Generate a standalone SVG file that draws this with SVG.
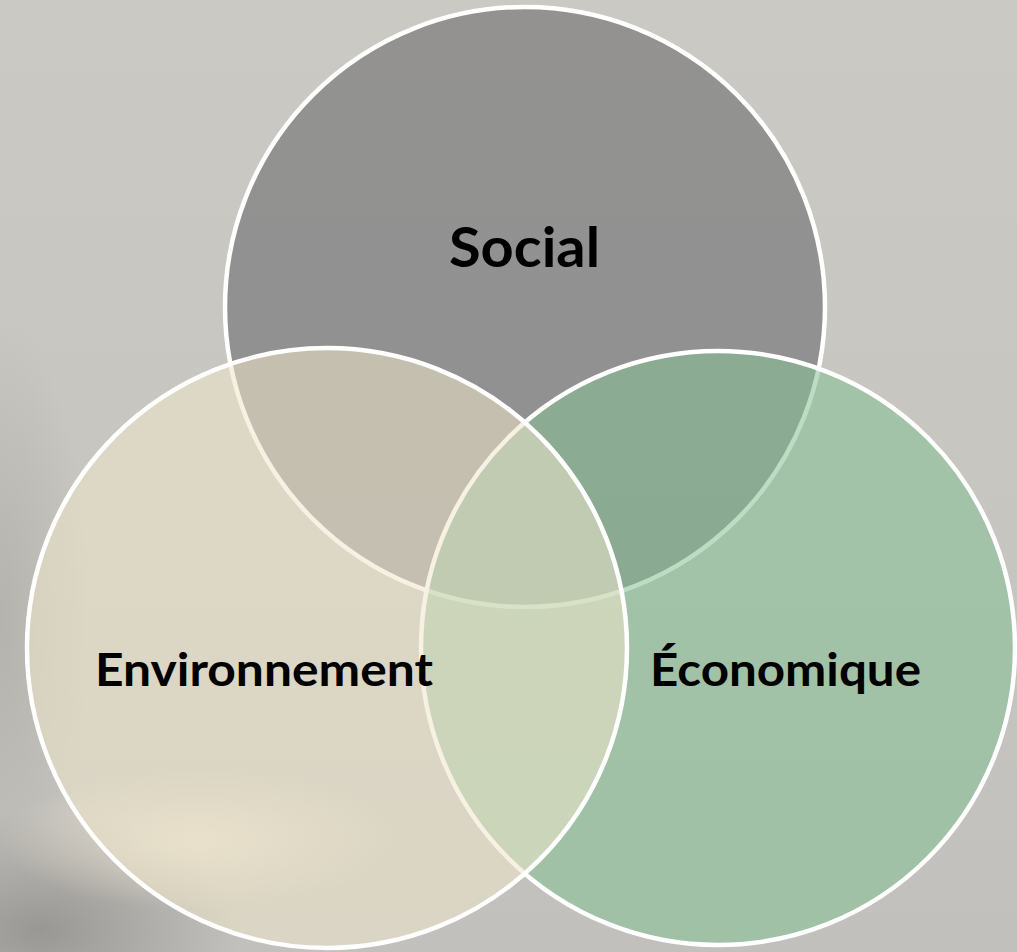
<svg xmlns="http://www.w3.org/2000/svg" width="1017" height="952" viewBox="0 0 1017 952">
  <defs>
    <style>
      .ring { stroke: #ffffff; stroke-width: 4.5; }
      .label { font-family: "Lato", "Open Sans", "Liberation Sans", sans-serif; font-weight: 700; fill: #000000; text-anchor: middle; }
    </style>
    <linearGradient id="bg" x1="0" y1="0" x2="0" y2="1">
      <stop offset="0" stop-color="#cbc9c4"/>
      <stop offset="0.6" stop-color="#c7c5c0"/>
      <stop offset="1" stop-color="#c2c0bc"/>
    </linearGradient>
    <radialGradient id="darkCorner" cx="0.5" cy="0.5" r="0.5">
      <stop offset="0" stop-color="#8f8d89" stop-opacity="0.8"/>
      <stop offset="1" stop-color="#8f8d89" stop-opacity="0"/>
    </radialGradient>
    <radialGradient id="darkSide" cx="0.5" cy="0.5" r="0.5">
      <stop offset="0" stop-color="#a9a7a2" stop-opacity="0.6"/>
      <stop offset="1" stop-color="#a9a7a2" stop-opacity="0"/>
    </radialGradient>
    <radialGradient id="lightBlob" cx="0.5" cy="0.5" r="0.5">
      <stop offset="0" stop-color="#efe6d2" stop-opacity="0.7"/>
      <stop offset="1" stop-color="#efe6d2" stop-opacity="0"/>
    </radialGradient>
  </defs>

  <g id="background">
    <rect x="0" y="0" width="1017" height="952" fill="url(#bg)"/>
    <ellipse cx="40" cy="930" rx="200" ry="120" fill="url(#darkCorner)"/>
    <ellipse cx="0" cy="620" rx="90" ry="300" fill="url(#darkSide)"/>
    <ellipse cx="200" cy="840" rx="200" ry="70" fill="url(#lightBlob)"/>
  </g>

  <g id="node-social">
    <circle class="ring" cx="525" cy="307" r="300" fill="#7b7b7c" fill-opacity="0.7"/>
    <text class="label" x="524.5" y="267" font-size="56" textLength="151" lengthAdjust="spacingAndGlyphs">Social</text>
  </g>

  <g id="node-economique">
    <circle class="ring" cx="718" cy="648" r="297" fill="#85c194" fill-opacity="0.55"/>
    <text class="label" x="785.5" y="686" font-size="46" textLength="271" lengthAdjust="spacingAndGlyphs">Économique</text>
  </g>

  <g id="node-environnement">
    <circle class="ring" cx="327" cy="648" r="300" fill="#eee5ca" fill-opacity="0.55"/>
    <text class="label" x="264" y="686" font-size="46" textLength="338" lengthAdjust="spacingAndGlyphs">Environnement</text>
  </g>

  <g id="connectors"/>
</svg>
